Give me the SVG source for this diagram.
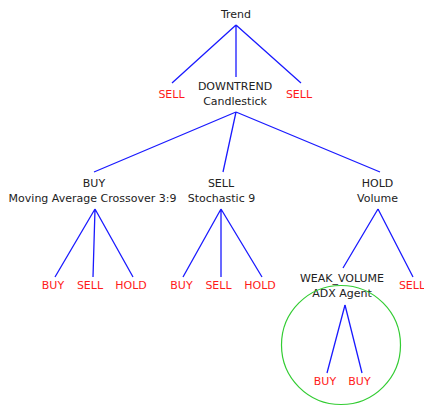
<svg xmlns="http://www.w3.org/2000/svg" width="424" height="407" viewBox="0 0 424 407">
<style>
text{font-family:"DejaVu Sans","Liberation Sans",sans-serif;font-size:11px;text-anchor:middle;fill:#222}
.r{fill:#ff1a1a}
.e{stroke:#1a1aff;stroke-width:1.3;fill:none}
</style>
<rect width="424" height="407" fill="#fff"/>
<g id="connectors">
<path class="e" d="M236,25L172,83M236,25L236,77M236,25L301,83"/>
<path class="e" d="M236,112L94,172M236,112L223,172M236,112L380,172"/>
<path class="e" d="M95,209L55,277M95,209L93,277M95,209L133,277"/>
<path class="e" d="M221,209L183,277M221,209L221,277M221,209L262,277"/>
<path class="e" d="M378,209L343,268M378,209L413,277"/>
<path class="e" d="M345,305L327,373M345,305L362,373"/>
</g>
<g id="trend"><text x="236" y="18">Trend</text></g>
<g id="sell1"><text class="r" x="171.5" y="98">SELL</text></g>
<g id="candlestick"><text x="235" y="90">DOWNTREND</text><text x="235" y="105">Candlestick</text></g>
<g id="sell2"><text class="r" x="299" y="98">SELL</text></g>
<g id="ma"><text x="94" y="187">BUY</text><text x="92.5" y="202">Moving Average Crossover 3:9</text></g>
<g id="stoch"><text x="221" y="187">SELL</text><text x="221.5" y="202">Stochastic 9</text></g>
<g id="volume"><text x="377.5" y="187">HOLD</text><text x="377.5" y="202">Volume</text></g>
<g id="ma-buy"><text class="r" x="53" y="289">BUY</text></g>
<g id="ma-sell"><text class="r" x="90" y="289">SELL</text></g>
<g id="ma-hold"><text class="r" x="131" y="289">HOLD</text></g>
<g id="st-buy"><text class="r" x="181.5" y="289">BUY</text></g>
<g id="st-sell"><text class="r" x="218.5" y="289">SELL</text></g>
<g id="st-hold"><text class="r" x="260" y="289">HOLD</text></g>
<g id="adx"><text x="342" y="282">WEAK_VOLUME</text><text x="342" y="297">ADX Agent</text>
<circle cx="341" cy="345" r="59.5" fill="none" stroke="#33cc33" stroke-width="1.2"/></g>
<g id="vol-sell"><text class="r" x="412" y="289">SELL</text></g>
<g id="adx-buy1"><text class="r" x="325" y="385">BUY</text></g>
<g id="adx-buy2"><text class="r" x="359.5" y="385">BUY</text></g>
</svg>
